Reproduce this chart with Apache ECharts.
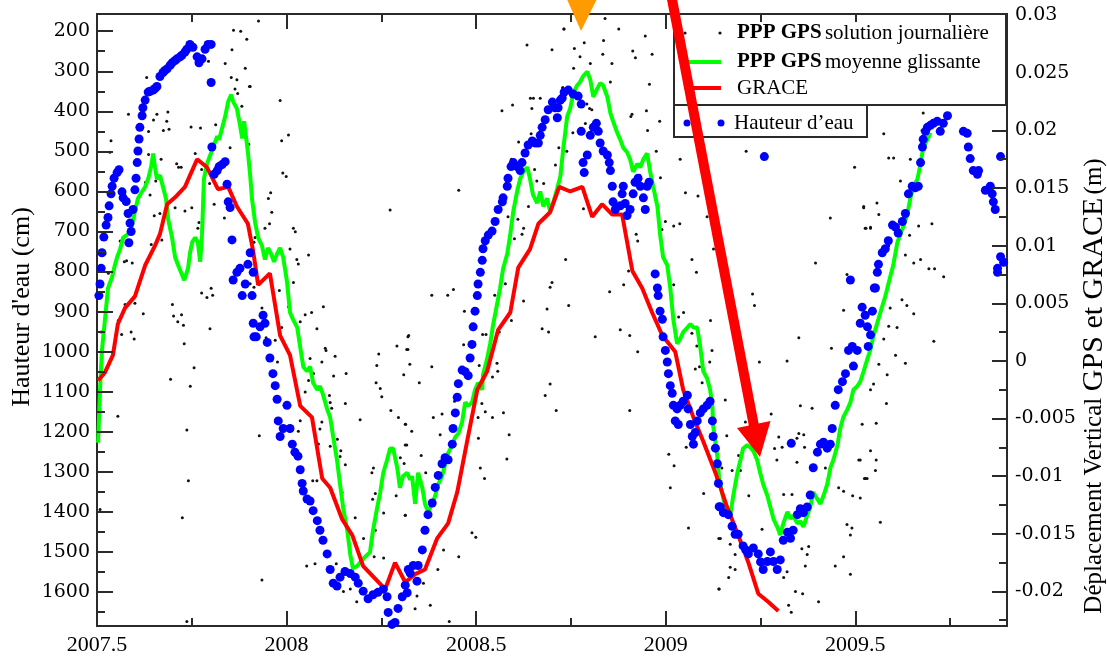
<!DOCTYPE html>
<html>
<head>
<meta charset="utf-8">
<script src="https://cdn.jsdelivr.net/npm/echarts@6/dist/echarts.min.js"></script>
<style>
  html, body { margin: 0; padding: 0; background: #fff; }
  #chart { width: 1107px; height: 657px; }
</style>
</head>
<body>
<div id="chart"></div>
<script>
// Tick positions (decimal years, cm, m)
const yearLabels = [2007.5, 2008, 2008.5, 2009, 2009.5];
const yearMajorBottom = [2007.5, 2008, 2008.5, 2009, 2009.5];
const yearMinorBottom = [2007.75, 2008.25, 2008.75, 2009.25, 2009.75];
const yearMajorTop = [2008, 2008.5, 2009];
const yearMinorTop = [2007.75, 2008.25, 2008.75, 2009.25, 2009.5, 2009.75];
const heightLabels = [200, 300, 400, 500, 600, 700, 800, 900, 1000, 1100, 1200, 1300, 1400, 1500, 1600];
const heightMinor = [250, 350, 450, 550, 650, 750, 850, 950, 1050, 1150, 1250, 1350, 1450, 1550, 1650];
const dispLabels = [-0.02, -0.015, -0.01, -0.005, 0, 0.005, 0.01, 0.015, 0.02, 0.025, 0.03];
const dispMajor = [-0.02, -0.015, -0.01, -0.005, 0, 0.005, 0.01, 0.015, 0.02];
const dispMinor = [-0.0225, -0.0175, -0.0125, -0.0075, -0.0025, 0.0025, 0.0075, 0.0125, 0.0175];

// Hauteur d'eau (cm) : [année décimale, hauteur]
const waterHeight = [
[2007.505,860],[2007.508,831],[2007.511,792],[2007.513,753],[2007.518,714],[2007.524,684],[2007.529,665],[2007.532,636],[2007.537,606],[2007.540,587],[2007.545,567],[2007.553,553],[2007.558,546],[2007.566,601],[2007.569,616],[2007.577,625],[2007.582,655],[2007.587,679],[2007.584,728],[2007.590,700],[2007.595,645],[2007.600,596],[2007.603,567],[2007.606,528],[2007.608,499],[2007.611,469],[2007.613,440],[2007.619,411],[2007.621,391],[2007.627,372],[2007.635,352],[2007.640,350],[2007.648,347],[2007.653,343],[2007.658,338],[2007.666,313],[2007.674,303],[2007.679,298],[2007.685,294],[2007.693,285],[2007.698,279],[2007.706,273],[2007.711,269],[2007.719,264],[2007.724,260],[2007.732,252],[2007.737,245],[2007.745,233],[2007.753,240],[2007.764,264],[2007.769,279],[2007.777,269],[2007.785,245],[2007.793,233],[2007.801,233],
[2007.801,328],[2007.803,489],[2007.809,557],[2007.817,548],[2007.822,538],[2007.830,533],[2007.838,526],[2007.843,582],[2007.846,626],[2007.851,640],[2007.856,721],[2007.859,821],[2007.869,802],[2007.877,792],[2007.883,860],[2007.891,831],[2007.898,782],[2007.904,753],[2007.909,860],[2007.912,929],[2007.914,963],[2007.912,802],
[2007.920,963],[2007.930,938],[2007.938,909],[2007.943,929],[2007.949,977],[2007.956,1016],[2007.964,1055],[2007.970,1085],[2007.975,1119],[2007.978,1173],[2007.983,1212],[2007.991,1192],[2008.001,1134],[2008.009,1192],[2008.015,1231],[2008.022,1251],[2008.030,1261],[2008.036,1295],[2008.041,1329],[2008.044,1348],[2008.054,1368],[2008.062,1373],[2008.070,1397],[2008.081,1422],[2008.088,1446],[2008.096,1471],[2008.107,1505],[2008.115,1544],[2008.123,1578],[2008.133,1585],[2008.141,1563],[2008.154,1549],[2008.168,1554],[2008.181,1563],[2008.189,1578],[2008.202,1598],[2008.215,1617],[2008.228,1607],[2008.241,1601],[2008.255,1593],[2008.265,1612],[2008.268,1651],[2008.278,1681],[2008.286,1676],[2008.294,1641],[2008.305,1612],[2008.313,1583],[2008.321,1544],
[2008.318,1602],[2008.326,1553],[2008.334,1534],[2008.344,1573],[2008.347,1534],[2008.358,1495],[2008.365,1446],[2008.373,1407],[2008.384,1378],[2008.392,1339],[2008.400,1309],[2008.410,1280],[2008.418,1265],[2008.426,1270],[2008.437,1231],[2008.439,1192],[2008.445,1153],[2008.450,1114],[2008.453,1080],[2008.463,1046],[2008.471,1050],[2008.479,1060],[2008.484,1016],[2008.489,982],[2008.492,938],[2008.497,899],[2008.503,860],[2008.505,831],[2008.511,802],[2008.516,772],[2008.518,743],[2008.524,723],[2008.532,709],[2008.542,699],[2008.550,675],[2008.558,645],[2008.569,626],[2008.571,616],[2008.582,587],[2008.584,567],[2008.592,538],[2008.598,528],[2008.608,538],[2008.616,548],[2008.621,528],[2008.629,504],[2008.637,484],[2008.648,474],[2008.656,479],[2008.664,479],[2008.669,460],[2008.674,440],[2008.682,421],[2008.690,396],[2008.701,377],[2008.708,391],[2008.714,416],[2008.716,391],[2008.722,372],[2008.727,367],[2008.732,352],[2008.743,347],[2008.756,357],[2008.769,362],[2008.777,382],
[2008.777,450],[2008.782,528],[2008.785,553],[2008.793,509],[2008.801,460],[2008.809,440],[2008.817,430],[2008.822,450],[2008.827,479],[2008.835,499],[2008.846,509],[2008.851,528],[2008.854,548],[2008.859,587],[2008.861,626],[2008.867,645],[2008.880,636],[2008.885,606],[2008.888,587],[2008.893,630],[2008.898,660],[2008.906,645],[2008.914,606],[2008.919,577],[2008.927,567],[2008.933,587],[2008.941,616],[2008.946,645],[2008.951,587],[2008.956,577],
[2008.972,806],[2008.978,841],[2008.980,860],[2008.985,899],[2008.991,919],[2008.993,963],[2008.999,997],[2009.004,1026],[2009.007,1055],[2009.012,1085],[2009.017,1104],[2009.020,1134],[2009.025,1173],[2009.030,1143],[2009.033,1182],[2009.038,1134],[2009.046,1124],[2009.057,1109],[2009.059,1143],[2009.065,1182],[2009.070,1212],[2009.073,1231],[2009.078,1202],[2009.083,1173],[2009.091,1153],[2009.099,1143],[2009.109,1134],[2009.117,1124],[2009.123,1173],[2009.125,1212],[2009.131,1241],[2009.136,1280],[2009.139,1329],[2009.141,1387],[2009.144,1388],[2009.152,1402],[2009.165,1407],[2009.175,1436],[2009.183,1456],[2009.191,1456],[2009.204,1485],[2009.211,1495],[2009.218,1505],[2009.231,1490],[2009.244,1505],[2009.250,1525],[2009.257,1544],[2009.268,1524],[2009.276,1500],[2009.284,1524],[2009.294,1544],[2009.302,1520],[2009.310,1471],[2009.321,1451],[2009.329,1466],[2009.336,1446],[2009.347,1407],[2009.355,1392],[2009.363,1402],[2009.373,1388],[2009.381,1358],[2009.389,1290],[2009.400,1251],[2009.408,1231],[2009.416,1226],[2009.426,1241],[2009.434,1231],[2009.439,1192],[2009.447,1134],[2009.455,1095],[2009.466,1075],[2009.474,1055],[2009.482,997],[2009.492,987],[2009.495,1036],[2009.505,997],[2009.513,929],[2009.518,889],[2009.526,909],[2009.532,938],[2009.534,987],[2009.540,958],[2009.545,899],[2009.550,841],
[2009.553,841],[2009.558,802],[2009.561,782],[2009.571,753],[2009.579,743],[2009.587,723],[2009.598,684],[2009.606,689],[2009.613,704],[2009.624,675],[2009.632,655],[2009.640,606],[2009.650,587],[2009.658,591],[2009.666,587],[2009.672,528],[2009.677,489],[2009.679,470],[2009.685,450],[2009.690,440],[2009.698,435],[2009.706,430],[2009.716,425],[2009.724,450],[2009.732,430],[2009.743,411],
[2009.785,450],[2009.795,455],[2009.798,489],[2009.803,518],[2009.811,548],[2009.822,557],[2009.825,548],[2009.843,597],[2009.856,587],[2009.861,606],[2009.864,626],[2009.869,645],[2009.875,792],[2009.875,802],[2009.883,763],[2009.891,777],
[2009.260,513],[2009.331,1229],[2009.487,821],[2009.883,513]
];

// PPP GPS moyenne glissante (m)
const gpsMovingAvg = [
[2007.503,-0.0071],[2007.508,-0.0025],[2007.513,0.0009],[2007.521,0.0036],[2007.529,0.0063],[2007.540,0.0073],[2007.547,0.0083],[2007.553,0.0090],[2007.561,0.0097],[2007.569,0.0107],[2007.582,0.0110],[2007.592,0.0117],[2007.600,0.0130],[2007.608,0.0141],[2007.619,0.0147],[2007.627,0.0151],[2007.635,0.0158],[2007.643,0.0169],[2007.648,0.0180],[2007.653,0.0168],[2007.658,0.0158],[2007.666,0.0161],[2007.674,0.0151],[2007.682,0.0141],[2007.687,0.0124],[2007.698,0.0107],[2007.706,0.0090],[2007.714,0.0083],[2007.724,0.0075],[2007.730,0.0070],[2007.740,0.0080],[2007.745,0.0093],[2007.751,0.0103],[2007.759,0.0107],[2007.766,0.0103],[2007.772,0.0086],[2007.777,0.0110],[2007.782,0.0158],[2007.790,0.0171],[2007.798,0.0178],[2007.806,0.0185],[2007.817,0.0195],[2007.822,0.0192],[2007.830,0.0202],[2007.838,0.0212],[2007.846,0.0225],[2007.854,0.0231],[2007.859,0.0225],[2007.869,0.0219],[2007.877,0.0205],[2007.883,0.0193],[2007.888,0.0208],[2007.898,0.0181],[2007.904,0.0161],[2007.909,0.0140],[2007.917,0.0120],[2007.925,0.0107],[2007.935,0.0100],[2007.943,0.0088],[2007.951,0.0098],[2007.959,0.0093],[2007.967,0.0086],[2007.975,0.0093],[2007.983,0.0098],[2007.991,0.0090],[2008.001,0.0069],[2008.009,0.0042],[2008.017,0.0036],[2008.028,0.0029],[2008.036,0.0012],[2008.044,-0.0005],[2008.054,-0.0009],[2008.062,-0.0005],[2008.070,-0.0019],[2008.081,-0.0025],[2008.088,-0.0022],[2008.096,-0.0029],[2008.107,-0.0042],[2008.115,-0.0049],[2008.123,-0.0066],[2008.133,-0.0086],[2008.141,-0.0107],[2008.149,-0.0127],[2008.160,-0.0147],[2008.168,-0.0168],[2008.175,-0.0180],[2008.186,-0.0178],[2008.194,-0.0175],[2008.207,-0.0170],[2008.220,-0.0166],[2008.228,-0.0147],[2008.239,-0.0127],[2008.247,-0.0114],[2008.255,-0.0097],[2008.265,-0.0086],[2008.273,-0.0076],[2008.281,-0.0076],[2008.292,-0.0093],[2008.299,-0.0110],[2008.307,-0.0100],[2008.318,-0.0097],[2008.326,-0.0103],[2008.331,-0.0100],[2008.339,-0.0124],[2008.347,-0.0097],[2008.358,-0.0110],[2008.365,-0.0124],[2008.373,-0.0131],[2008.384,-0.0124],[2008.392,-0.0117],[2008.400,-0.0107],[2008.410,-0.0100],[2008.418,-0.0090],[2008.426,-0.0080],[2008.437,-0.0073],[2008.445,-0.0066],[2008.453,-0.0063],[2008.463,-0.0053],[2008.471,-0.0036],[2008.479,-0.0039],[2008.489,-0.0036],[2008.497,-0.0025],[2008.505,-0.0019],[2008.516,-0.0025],[2008.518,-0.0012],[2008.529,0.0002],[2008.537,0.0015],[2008.545,0.0032],[2008.555,0.0049],[2008.563,0.0063],[2008.571,0.0080],[2008.582,0.0093],[2008.590,0.0110],[2008.598,0.0130],[2008.608,0.0147],[2008.616,0.0158],[2008.624,0.0164],[2008.635,0.0168],[2008.642,0.0158],[2008.650,0.0144],[2008.661,0.0137],[2008.669,0.0147],[2008.677,0.0134],[2008.687,0.0141],[2008.695,0.0130],[2008.703,0.0137],[2008.714,0.0150],[2008.722,0.0160],[2008.730,0.0185],[2008.740,0.0212],[2008.748,0.0219],[2008.756,0.0232],[2008.766,0.0239],[2008.774,0.0242],[2008.782,0.0247],[2008.793,0.0251],[2008.801,0.0244],[2008.809,0.0229],[2008.819,0.0236],[2008.827,0.0241],[2008.835,0.0239],[2008.846,0.0229],[2008.854,0.0215],[2008.861,0.0208],[2008.872,0.0198],[2008.880,0.0192],[2008.888,0.0185],[2008.898,0.0181],[2008.906,0.0175],[2008.914,0.0164],[2008.925,0.0171],[2008.933,0.0168],[2008.941,0.0175],[2008.951,0.0180],[2008.959,0.0164],[2008.967,0.0151],[2008.978,0.0134],[2008.985,0.0110],[2008.993,0.0090],[2009.004,0.0083],[2009.012,0.0063],[2009.020,0.0036],[2009.030,0.0015],[2009.038,0.0019],[2009.046,0.0025],[2009.057,0.0029],[2009.065,0.0032],[2009.073,0.0029],[2009.083,0.0029],[2009.091,0.0012],[2009.099,-0.0009],[2009.109,-0.0015],[2009.117,-0.0025],[2009.123,-0.0039],[2009.125,-0.0056],[2009.136,-0.0083],[2009.141,-0.0103],[2009.157,-0.0127],[2009.170,-0.0134],[2009.178,-0.0117],[2009.189,-0.0097],[2009.197,-0.0086],[2009.204,-0.0076],[2009.215,-0.0073],[2009.223,-0.0075],[2009.231,-0.0078],[2009.241,-0.0086],[2009.249,-0.0097],[2009.257,-0.0107],[2009.268,-0.0117],[2009.276,-0.0127],[2009.284,-0.0137],[2009.294,-0.0144],[2009.302,-0.0151],[2009.310,-0.0141],[2009.321,-0.0131],[2009.329,-0.0137],[2009.336,-0.0134],[2009.347,-0.0141],[2009.355,-0.0139],[2009.363,-0.0144],[2009.373,-0.0134],[2009.381,-0.0127],[2009.389,-0.0114],[2009.400,-0.0120],[2009.408,-0.0124],[2009.416,-0.0117],[2009.426,-0.0107],[2009.434,-0.0093],[2009.442,-0.0086],[2009.453,-0.0073],[2009.460,-0.0059],[2009.468,-0.0049],[2009.479,-0.0042],[2009.487,-0.0036],[2009.495,-0.0025],[2009.505,-0.0022],[2009.513,-0.0018],[2009.521,-0.0010],[2009.532,0.0002],[2009.540,0.0010],[2009.548,0.0022],[2009.566,0.0042],[2009.579,0.0056],[2009.592,0.0073],[2009.600,0.0083],[2009.611,0.0103],[2009.619,0.0110],[2009.627,0.0117],[2009.637,0.0127],[2009.645,0.0141],[2009.653,0.0151],[2009.664,0.0158],[2009.672,0.0171],[2009.679,0.0185],[2009.690,0.0192],[2009.698,0.0198]
];

// GRACE (m)
const grace = [
[2007.503,-0.0017],[2007.521,-0.0010],[2007.542,0.0005],[2007.555,0.0032],[2007.574,0.0046],[2007.600,0.0056],[2007.627,0.0083],[2007.653,0.0100],[2007.666,0.0110],[2007.685,0.0136],[2007.706,0.0142],[2007.732,0.0151],[2007.764,0.0175],[2007.790,0.0168],[2007.819,0.0149],[2007.846,0.0151],[2007.869,0.0134],[2007.898,0.0119],[2007.912,0.0095],[2007.925,0.0066],[2007.956,0.0076],[2007.983,0.0022],[2008.009,0.0005],[2008.036,-0.0039],[2008.067,-0.0049],[2008.094,-0.0102],[2008.115,-0.0110],[2008.146,-0.0137],[2008.173,-0.0151],[2008.202,-0.0178],[2008.260,-0.0198],[2008.286,-0.0175],[2008.313,-0.0192],[2008.339,-0.0185],[2008.365,-0.0181],[2008.397,-0.0154],[2008.426,-0.0141],[2008.450,-0.0114],[2008.476,-0.0070],[2008.503,-0.0025],[2008.529,-0.0009],[2008.558,0.0027],[2008.590,0.0042],[2008.611,0.0081],[2008.642,0.0097],[2008.664,0.0119],[2008.695,0.0129],[2008.719,0.0151],[2008.748,0.0147],[2008.780,0.0151],[2008.806,0.0125],[2008.832,0.0136],[2008.859,0.0127],[2008.885,0.0127],[2008.912,0.0078],[2008.938,0.0063],[2008.964,0.0042],[2008.991,0.0022],[2009.025,0.0008],[2009.046,-0.0025],[2009.073,-0.0049],[2009.099,-0.0070],[2009.131,-0.0097],[2009.162,-0.0127],[2009.191,-0.0151],[2009.218,-0.0175],[2009.244,-0.0202],[2009.270,-0.0209],[2009.297,-0.0217]
];

// PPP GPS solution journalière (m)
const gpsDaily = [
[2007.860,0.0287],[2007.879,0.0286],[2007.895,0.0279],[2007.856,0.0270],[2007.838,0.0258],[2007.794,0.0260],[2007.891,0.0254],[2007.631,0.0246],[2007.854,0.0246],[2007.869,0.0244],[2007.902,0.0238],[2007.864,0.0236],[2007.871,0.0232],[2007.882,0.0221],[2007.583,0.0214],[2007.618,0.0217],[2007.658,0.0214],[2007.687,0.0216],[2007.684,0.0208],[2007.649,0.0209],[2007.675,0.0200],[2007.690,0.0201],[2007.636,0.0199],[2007.748,0.0203],[2007.773,0.0202],[2007.813,0.0205],[2007.537,0.0191],[2007.534,0.0181],[2007.759,0.0180],[2007.851,0.0185],[2007.900,0.0188],[2007.669,0.0175],[2007.636,0.0179],[2007.710,0.0171],[2007.715,0.0168],[2007.722,0.0168],[2007.655,0.0156],[2007.628,0.0155],[2007.640,0.0144],[2007.706,0.0133],[2007.732,0.0130],[2007.750,0.0133],[2007.651,0.0126],[2007.666,0.0128],[2007.776,0.0166],[2007.797,0.0154],[2007.809,0.0136],[2007.836,0.0124],[2007.769,0.0120],[2007.766,0.0115],[2007.561,0.0104],[2007.572,0.0086],[2007.578,0.0087],[2007.593,0.0085],[2007.671,0.0105],[2007.643,0.0101],[2007.521,0.0093],[2007.530,0.0076],[2007.600,0.0050],[2007.574,0.0049],[2007.622,0.0041],[2007.776,0.0059],[2007.801,0.0063],[2007.790,0.0055],[2007.805,0.0057],[2007.699,0.0049],[2007.702,0.0039],[2007.713,0.0034],[2007.723,0.0040],[2007.728,0.0031],[2007.730,0.0015],[2007.798,0.0028],[2007.511,0.0025],[2007.590,0.0025],[2007.598,0.0019],[2007.556,0.0035],[2007.565,0.0023],[2007.756,-0.0006],[2007.694,-0.0016],[2007.746,-0.0022],[2007.737,-0.0060],[2007.555,-0.0048],[2007.741,-0.0104],[2007.725,-0.0136],[2007.508,-0.0129],[2007.737,-0.0226],
[2007.926,0.0295],[2007.904,0.0238],[2007.983,0.0226],[2007.987,0.0191],[2008.005,0.0196],[2007.990,0.0163],[2007.999,0.0160],[2007.958,0.0146],[2007.952,0.0141],[2007.961,0.0129],[2007.943,0.0115],[2007.955,0.0119],[2008.018,0.0115],[2008.023,0.0112],[2007.917,0.0107],[2007.914,0.0103],[2008.009,0.0097],[2008.027,0.0088],[2008.031,0.0084],[2008.058,0.0092],[2007.904,0.0067],[2007.914,0.0064],[2007.981,0.0061],[2008.018,0.0068],[2007.935,0.0046],[2008.005,0.0047],[2008.049,0.0040],[2008.066,0.0042],[2008.097,0.0047],[2008.036,0.0034],[2007.987,0.0029],[2008.080,0.0028],[2007.976,-0.0001],[2008.102,0.0011],[2008.104,0.0009],[2008.128,0.0004],[2008.062,0.0002],[2008.093,-0.0001],[2007.970,0.0018],[2007.946,0.0020],[2008.071,-0.0011],[2008.058,-0.0017],[2008.124,-0.0013],[2008.157,-0.0011],[2008.049,-0.0027],[2008.113,-0.0030],[2008.115,-0.0036],[2008.119,-0.0041],[2008.155,-0.0037],[2008.194,-0.0051],[2008.036,-0.0052],[2008.088,-0.0059],[2008.093,-0.0053],[2008.119,-0.0058],[2007.928,-0.0065],[2008.031,-0.0061],[2008.084,-0.0072],[2008.115,-0.0074],[2008.134,-0.0068],[2008.143,-0.0078],[2008.155,-0.0090],[2008.141,-0.0083],[2008.069,-0.0104],[2008.080,-0.0104],[2008.146,-0.0114],[2008.181,-0.0136],[2008.203,-0.0154],[2008.229,-0.0093],[2008.225,-0.0097],[2008.234,-0.0115],[2008.227,-0.0120],[2008.256,-0.0171],[2008.053,-0.0178],[2008.075,-0.0176],[2008.131,-0.0176],[2007.935,-0.0190],[2008.168,-0.0198],[2008.150,-0.0200],[2008.185,-0.0209],[2008.243,0.0006],[2008.238,-0.0004],[2008.236,-0.0019],[2008.247,-0.0024],[2008.251,-0.0031],[2008.291,0.0013],[2008.317,0.0010],[2008.322,0.0022],[2008.273,0.0131],[2008.275,-0.0043],[2008.295,-0.0049],[2008.309,-0.0012],[2008.314,-0.0055],[2008.317,-0.0073],[2008.300,-0.0084],[2008.310,-0.0089],[2008.313,-0.0134],[2008.289,-0.0117],[2008.256,-0.0132],[2008.234,-0.0147],[2008.231,-0.0170],[2008.203,-0.0171],
[2008.731,0.0288],[2008.634,0.0274],[2008.700,0.0270],[2008.728,0.0237],[2008.643,0.0228],[2008.651,0.0228],[2008.669,0.0228],[2008.568,0.0217],[2008.596,0.0222],[2008.647,0.0219],[2008.645,0.0197],[2008.612,0.0190],[2008.718,0.0185],[2008.593,0.0175],[2008.654,0.0166],[2008.575,0.0152],[2008.678,0.0154],[2008.660,0.0156],[2008.673,0.0141],[2008.709,0.0170],[2008.638,0.0134],[2008.625,0.0115],[2008.621,0.0110],[2008.601,0.0106],[2008.584,0.0125],[2008.610,0.0123],[2008.454,0.0148],[2008.700,0.0068],[2008.695,0.0064],[2008.577,0.0067],[2008.383,0.0057],[2008.425,0.0057],[2008.440,0.0062],[2008.549,0.0057],[2008.625,0.0052],[2008.687,0.0045],[2008.469,0.0043],[2008.593,0.0035],[2008.674,0.0028],[2008.691,0.0025],[2008.320,0.0021],[2008.517,0.0023],[2008.526,0.0023],[2008.561,0.0025],[2008.320,0.0010],[2008.467,0.0014],[2008.550,0.0017],[2008.543,-0.0014],[2008.555,-0.0002],[2008.557,-0.0009],[2008.508,-0.0004],[2008.383,-0.0005],[2008.325,-0.0003],[2008.350,-0.0019],[2008.695,-0.0020],[2008.682,-0.0030],[2008.711,-0.0043],[2008.572,-0.0045],[2008.524,-0.0044],[2008.543,-0.0049],[2008.515,-0.0037],[2008.505,-0.0049],[2008.443,-0.0035],[2008.387,-0.0049],[2008.410,-0.0046],[2008.405,-0.0064],[2008.506,-0.0067],[2008.313,-0.0055],[2008.330,-0.0061],[2008.313,-0.0073],[2008.355,-0.0082],[2008.587,-0.0064],[2008.581,-0.0085],[2008.511,-0.0093],[2008.522,-0.0102],[2008.367,-0.0097],[2008.313,-0.0134],[2008.489,-0.0149],[2008.499,-0.0153],[2008.414,-0.0164],[2008.454,-0.0170],[2008.399,-0.0181],[2008.361,-0.0193],[2008.344,-0.0204],[2008.379,-0.0212],[2008.339,-0.0215],[2008.429,-0.0226],
[2008.732,0.0288],[2008.840,0.0297],[2008.876,0.0288],[2008.946,0.0282],[2008.759,0.0271],[2008.785,0.0276],[2008.836,0.0278],[2008.913,0.0269],[2008.920,0.0263],[2008.964,0.0266],[2008.774,0.0264],[2008.757,0.0254],[2008.801,0.0258],[2008.858,0.0258],[2008.834,0.0266],[2008.729,0.0237],[2008.854,0.0242],[2008.957,0.0240],[2008.799,0.0219],[2008.805,0.0218],[2008.792,0.0223],[2008.911,0.0214],[2008.949,0.0217],[2008.984,0.0208],[2008.908,0.0212],[2008.952,0.0200],[2008.788,0.0206],[2008.755,0.0198],[2008.975,0.0182],[2008.739,0.0182],[2008.884,0.0189],[2008.893,0.0183],[2009.038,0.0175],[2009.052,0.0146],[2009.085,0.0143],[2009.109,0.0125],[2008.986,0.0159],[2008.931,0.0161],[2008.783,0.0132],[2008.867,0.0132],[2008.922,0.0110],[2008.926,0.0104],[2009.021,0.0117],[2008.990,0.0114],[2008.999,0.0121],[2009.037,0.0119],[2008.736,0.0088],[2009.069,0.0088],[2009.081,0.0077],[2009.126,0.0097],[2008.902,0.0078],[2008.889,0.0066],[2008.852,0.0060],[2008.744,0.0048],[2008.880,0.0027],[2008.905,0.0022],[2008.814,0.0021],[2008.926,0.0008],[2009.021,0.0066],[2009.034,0.0038],[2009.047,0.0042],[2009.069,0.0024],[2009.082,0.0013],[2009.089,-0.0005],[2009.122,0.0009],[2009.116,-0.0001],[2009.078,-0.0007],[2009.096,-0.0019],[2009.118,0.0035],[2008.905,-0.0043],[2009.054,-0.0075],[2009.008,-0.0081],[2009.022,-0.0091],[2009.012,-0.0110],[2009.100,-0.0115],[2009.060,-0.0145],[2009.140,-0.0154],[2009.140,-0.0198],
[2009.212,0.0182],[2009.498,0.0168],[2009.522,0.0133],[2009.434,0.0124],[2009.528,0.0115],[2009.540,0.0116],[2009.395,0.0085],[2009.478,0.0075],[2009.229,0.0058],[2009.234,0.0048],[2009.469,0.0044],[2009.351,0.0020],[2009.437,0.0011],[2009.320,0.0000],[2009.247,-0.0001],[2009.157,-0.0034],[2009.355,-0.0039],[2009.386,-0.0041],[2009.278,-0.0046],[2009.210,-0.0053],[2009.161,-0.0065],[2009.351,-0.0063],[2009.364,-0.0064],[2009.346,-0.0067],[2009.366,-0.0075],[2009.298,-0.0066],[2009.287,-0.0076],[2009.192,-0.0082],[2009.307,-0.0075],[2009.293,-0.0086],[2009.509,-0.0086],[2009.540,-0.0078],[2009.148,-0.0093],[2009.175,-0.0095],[2009.197,-0.0095],[2009.135,-0.0102],[2009.346,-0.0088],[2009.421,-0.0093],[2009.527,-0.0102],[2009.456,-0.0110],[2009.469,-0.0113],[2009.219,-0.0117],[2009.311,-0.0116],[2009.333,-0.0116],[2009.493,-0.0117],[2009.254,-0.0146],[2009.478,-0.0142],[2009.491,-0.0145],[2009.487,-0.0151],[2009.144,-0.0154],[2009.170,-0.0159],[2009.183,-0.0168],[2009.359,-0.0163],[2009.377,-0.0161],[2009.373,-0.0168],[2009.469,-0.0170],[2009.487,-0.0185],[2009.170,-0.0179],[2009.183,-0.0181],[2009.320,-0.0183],[2009.368,-0.0178],[2009.447,-0.0178],[2009.166,-0.0188],[2009.311,-0.0188],[2009.141,-0.0198],[2009.342,-0.0200],[2009.361,-0.0202],[2009.403,-0.0209],[2009.324,-0.0212],[2009.331,-0.0218],
[2009.679,0.0215],[2009.676,0.0200],[2009.575,0.0197],[2009.673,0.0193],[2009.645,0.0175],[2009.588,0.0176],[2009.601,0.0176],[2009.619,0.0156],[2009.522,0.0134],[2009.557,0.0137],[2009.562,0.0127],[2009.526,0.0115],[2009.540,0.0115],[2009.702,0.0119],[2009.667,0.0117],[2009.643,0.0109],[2009.588,0.0100],[2009.632,0.0092],[2009.654,0.0085],[2009.672,0.0088],[2009.694,0.0080],[2009.709,0.0080],[2009.733,0.0073],[2009.623,0.0053],[2009.636,0.0048],[2009.654,0.0041],[2009.592,0.0046],[2009.588,0.0030],[2009.610,0.0029],[2009.707,0.0017],[2009.575,0.0019],[2009.606,0.0005],[2009.632,-0.0002],[2009.562,-0.0003],[2009.584,-0.0012],[2009.548,-0.0020],[2009.540,-0.0025],[2009.582,-0.0037],[2009.518,-0.0055],[2009.555,-0.0054],[2009.513,-0.0086],[2009.555,-0.0086],[2009.553,-0.0095],[2009.524,-0.0102],[2009.531,-0.0102],[2009.513,-0.0119],[2009.566,-0.0140]
];

const SERIF = '"Liberation Serif", "Times New Roman", serif';
const WIDE_SERIF = '"DejaVu Serif", serif';
const INK = '#2a2a2a';

const YEAR_MIN = 2007.5, YEAR_MAX = 2009.9;
const H_MIN = 157, H_MAX = 1685;
const D_MIN = -0.0230, D_MAX = 0.0301;

// An axis that only draws inward ticks at the given values (labels added separately)
function tickOnlyAxis(extra, ticks, len) {
  return Object.assign({
    type: 'value', z: 10,
    axisLine: { show: false, onZero: false },
    splitLine: { show: false },
    axisLabel: { show: false },
    axisTick: { show: true, inside: true, length: len, customValues: ticks,
                lineStyle: { color: INK, width: 2 } }
  }, extra);
}

const xMain = tickOnlyAxis({ min: YEAR_MIN, max: YEAR_MAX, position: 'bottom' }, yearMajorBottom, 15);
xMain.axisLabel = { show: true, customValues: yearLabels, formatter: v => String(v),
  color: '#000', fontFamily: SERIF, fontSize: 22, margin: 8 };

const yHeight = tickOnlyAxis({ min: H_MIN, max: H_MAX, inverse: true, position: 'left' }, heightLabels, 16);
yHeight.axisLabel = { show: true, customValues: heightLabels, formatter: v => String(v),
  color: '#000', fontFamily: WIDE_SERIF, fontSize: 19, margin: 7 };

const yDisp = tickOnlyAxis({ min: D_MIN, max: D_MAX, position: 'right' }, dispMajor, 15);
yDisp.axisLabel = { show: true, customValues: dispLabels,
  formatter: v => String(Math.round(v * 1000) / 1000),
  color: '#000', fontFamily: WIDE_SERIF, fontSize: 19, margin: 8 };

const chart = echarts.init(document.getElementById('chart'));

chart.setOption({
  animation: false,
  backgroundColor: '#fff',
  grid: { left: 97, right: 100, top: 14, bottom: 31, show: true,
          borderColor: INK, borderWidth: 2, backgroundColor: 'transparent' },
  xAxis: [
    xMain,
    tickOnlyAxis({ min: YEAR_MIN, max: YEAR_MAX, position: 'top' }, yearMajorTop, 15),
    tickOnlyAxis({ min: YEAR_MIN, max: YEAR_MAX, position: 'bottom' }, yearMinorBottom, 8),
    tickOnlyAxis({ min: YEAR_MIN, max: YEAR_MAX, position: 'top' }, yearMinorTop, 8)
  ],
  yAxis: [
    yHeight,
    yDisp,
    tickOnlyAxis({ min: H_MIN, max: H_MAX, inverse: true, position: 'left' }, heightMinor, 8),
    tickOnlyAxis({ min: D_MIN, max: D_MAX, position: 'right' }, dispMinor, 8)
  ],
  series: [
    { name: 'PPP GPS solution journalière', type: 'scatter', xAxisIndex: 0, yAxisIndex: 1,
      data: gpsDaily, symbol: 'circle', symbolSize: 3,
      itemStyle: { color: '#111', opacity: 1 }, z: 2, silent: true },
    { name: 'PPP GPS moyenne glissante', type: 'line', xAxisIndex: 0, yAxisIndex: 1,
      data: gpsMovingAvg, showSymbol: false, lineStyle: { color: '#00ff00', width: 4 }, z: 3, silent: true },
    { name: 'GRACE', type: 'line', xAxisIndex: 0, yAxisIndex: 1,
      data: grace, showSymbol: false, lineStyle: { color: '#ff0000', width: 4 }, z: 4, silent: true },
    { name: 'Hauteur d’eau', type: 'scatter', xAxisIndex: 0, yAxisIndex: 0,
      data: waterHeight, symbol: 'circle', symbolSize: 9,
      itemStyle: { color: '#0000ff', opacity: 1 }, z: 5, silent: true }
  ],
  graphic: [
    // axis titles
    { type: 'text', x: 22, y: 307, rotation: Math.PI / 2, z: 12,
      style: { text: "Hauteur d'eau (cm)", font: '26px ' + SERIF, fill: '#000',
               align: 'center', verticalAlign: 'middle' } },
    { type: 'text', x: 1094, y: 386, rotation: Math.PI / 2, z: 12,
      style: { text: '{a|Déplacement Vertical}  {b|GPS et GRACE} {a|(m)}', fill: '#000',
               align: 'center', verticalAlign: 'middle',
               rich: { a: { font: '25px ' + SERIF, fill: '#000' },
                       b: { font: '30px ' + SERIF, fill: '#000' } } } },
    // legend boxes
    { type: 'rect', z: 8, shape: { x: 674, y: 14, width: 332, height: 91 },
      style: { fill: '#fff', stroke: INK, lineWidth: 2 } },
    { type: 'rect', z: 8, shape: { x: 674, y: 105, width: 193, height: 32 },
      style: { fill: '#fff', stroke: INK, lineWidth: 2 } },
    { type: 'circle', z: 9, shape: { cx: 685, cy: 33, r: 1.6 }, style: { fill: '#111' } },
    { type: 'circle', z: 9, shape: { cx: 720, cy: 33, r: 1.6 }, style: { fill: '#111' } },
    { type: 'line', z: 9, shape: { x1: 688, y1: 62, x2: 721, y2: 62 },
      style: { stroke: '#00ff00', lineWidth: 4 } },
    { type: 'line', z: 9, shape: { x1: 688, y1: 88, x2: 721, y2: 88 },
      style: { stroke: '#ff0000', lineWidth: 4 } },
    { type: 'circle', z: 9, shape: { cx: 687, cy: 123, r: 3.5 }, style: { fill: '#0000ff' } },
    { type: 'circle', z: 9, shape: { cx: 721, cy: 123, r: 3.5 }, style: { fill: '#0000ff' } },
    { type: 'text', x: 737, y: 33, z: 9,
      style: { text: '{b|PPP GPS} {n|solution journalière}', verticalAlign: 'middle',
               rich: { b: { font: 'bold 21px ' + SERIF, fill: '#000' },
                       n: { font: '21px ' + SERIF, fill: '#000' } } } },
    { type: 'text', x: 737, y: 62, z: 9,
      style: { text: '{b|PPP GPS} {n|moyenne glissante}', verticalAlign: 'middle',
               rich: { b: { font: 'bold 21px ' + SERIF, fill: '#000' },
                       n: { font: '21px ' + SERIF, fill: '#000' } } } },
    { type: 'text', x: 737, y: 88, z: 9,
      style: { text: 'GRACE', font: '21px ' + SERIF, fill: '#000', verticalAlign: 'middle' } },
    { type: 'text', x: 734, y: 123, z: 9,
      style: { text: 'Hauteur d’eau', font: '21px ' + SERIF, fill: '#000', verticalAlign: 'middle' } },
    // annotation arrows
    { type: 'polygon', z: 20, shape: { points: [[566, -3], [598, -3], [581, 31]] },
      style: { fill: '#ff9a00' } },
    { type: 'line', z: 20, shape: { x1: 671, y1: -6, x2: 754, y2: 426 },
      style: { stroke: '#ff0000', lineWidth: 10 } },
    { type: 'polygon', z: 20, shape: { points: [[760, 457], [770.5, 421], [737, 428]] },
      style: { fill: '#ff0000' } }
  ]
});
</script>
</body>
</html>
